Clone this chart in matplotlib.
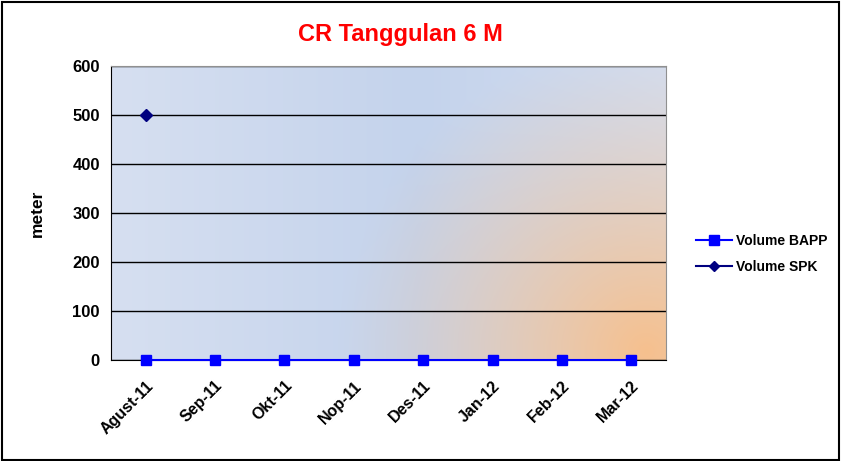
import numpy as np
import matplotlib.pyplot as plt
from matplotlib.lines import Line2D

plt.rcParams['font.family'] = ['Liberation Sans', 'DejaVu Sans']

months = ['Agust-11', 'Sep-11', 'Okt-11', 'Nop-11', 'Des-11', 'Jan-12', 'Feb-12', 'Mar-12']
volume_bapp = [0, 0, 0, 0, 0, 0, 0, 0]
volume_spk = [500, np.nan, np.nan, np.nan, np.nan, np.nan, np.nan, np.nan]

fig = plt.figure(figsize=(8.41, 4.61), dpi=100)
fig.patch.set_facecolor('white')
ax = fig.add_axes([111 / 841, 1 - 360 / 461, 555 / 841, 294 / 461])

# gradient background for the plot area
w, h = 555, 294
xx, yy = np.meshgrid(np.arange(w), np.arange(h))
light = np.array([224, 230, 243]) / 255
blue = np.array([196, 211, 236]) / 255
orange = np.array([246, 192, 142]) / 255
t = np.abs(xx / w - 0.55) / 0.55
base = blue[None, None, :] * (1 - t[..., None] * 0.65) + light[None, None, :] * (t[..., None] * 0.65)
d = np.sqrt((xx - 535) ** 2 + (yy - 285) ** 2)
wgt = np.clip(1 - d / 310, 0, 1) ** 1.2
img = base * (1 - wgt[..., None]) + orange[None, None, :] * wgt[..., None]
ax.imshow(img, extent=[0, 1, 0, 1], transform=ax.transAxes, aspect='auto', zorder=0)

x = np.arange(len(months))
ax.plot(x, volume_bapp, color='#0000ff', marker='s', markersize=7.5, linewidth=1.5, zorder=3, clip_on=False)
ax.plot(x, volume_spk, color='#000080', marker='D', markersize=6, linewidth=1.5, zorder=3)

ax.set_xlim(-0.5, 7.5)
ax.set_ylim(0, 600)
ax.set_yticks(range(0, 601, 100))
ax.yaxis.grid(True, color='black', linewidth=1)
ax.set_axisbelow(True)
ax.set_xticks(x)
ax.set_xticklabels(months, rotation=45, ha='right', rotation_mode='anchor', fontsize=11.5, fontweight='bold')
for lab in ax.get_yticklabels():
    lab.set_fontsize(12)
    lab.set_fontweight('bold')
ax.tick_params(axis='both', length=0, pad=8)
ax.tick_params(axis='x', pad=13)
ax.set_ylabel('meter', fontsize=12.5, fontweight='bold', labelpad=20)

ax.spines['left'].set_color('black')
ax.spines['bottom'].set_color('black')
ax.spines['top'].set_color('#909090')
ax.spines['right'].set_color('#909090')

fig.text(400 / 841, 1 - 34 / 461, 'CR Tanggulan 6 M', color='#ff0000', fontsize=17,
         fontweight='bold', ha='center', va='center')

handles = [Line2D([], [], color='#0000ff', marker='s', markersize=7, linewidth=1.5),
           Line2D([], [], color='#000080', marker='D', markersize=5, linewidth=1.5)]
fig.legend(handles, ['Volume BAPP', 'Volume SPK'], loc='center left',
           bbox_to_anchor=(683 / 841, 1 - 254 / 461), frameon=False,
           prop={'weight': 'bold', 'size': 10}, handlelength=2.6, labelspacing=0.9, handletextpad=0.3)

fig.add_artist(plt.Rectangle((0.002, 0.002), 0.996, 0.994, transform=fig.transFigure,
                             fill=False, edgecolor='black', linewidth=1.5))

fig.savefig('out.png', dpi=100)
